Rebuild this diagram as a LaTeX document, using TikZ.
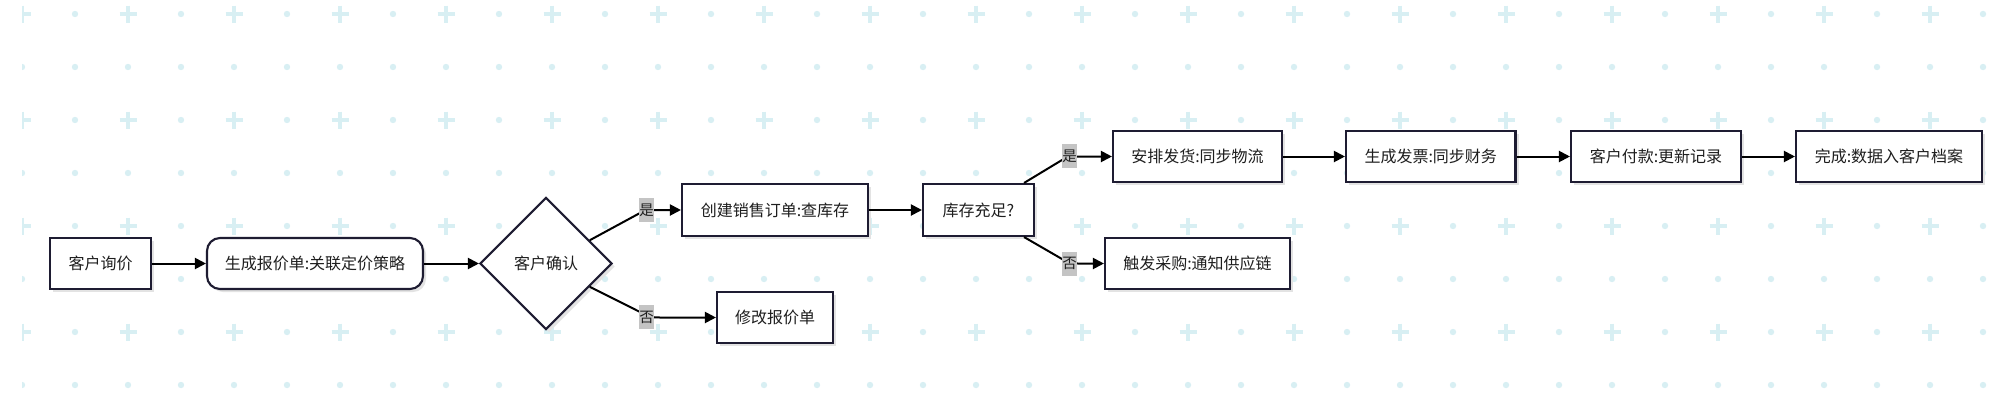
\documentclass[tikz,border=0pt]{standalone}
\usepackage{fontspec}
\setmainfont{Noto Sans CJK SC}
\usetikzlibrary{arrows.meta,shapes.geometric,shadows,calc}
\definecolor{gridc}{RGB}{216,239,243}
\definecolor{boxc}{RGB}{30,28,50}
\definecolor{lblbg}{RGB}{196,196,196}
\definecolor{txt}{RGB}{30,30,30}
\newcommand\boxfont{\fontsize{16}{18}\selectfont}
\newcommand\lblfont{\fontsize{14.5}{17}\selectfont}
\tikzset{
  x=1pt, y=-1pt,
  myshadow/.style={drop shadow={shadow xshift=3pt,shadow yshift=-3pt,fill=black!11,opacity=1}},
  box/.style={draw=boxc, line width=2.1pt, fill=white, minimum height=51pt, inner sep=0pt, font=\boxfont, text=txt, myshadow},
  dia/.style={diamond, aspect=1, draw=boxc, line width=2.1pt, fill=white, minimum width=132pt, minimum height=132pt, inner sep=0pt, font=\boxfont, text=txt, myshadow},
  edge/.style={draw=black, line width=2pt, -{Triangle[length=11pt,width=11pt]}},
  lbl/.style={fill=lblbg, inner sep=0pt, minimum width=15pt, minimum height=24pt, font=\lblfont, text=txt},
}
\begin{document}
\begin{tikzpicture}
\useasboundingbox (0,0) rectangle (2008,418);
\fill[white] (0,0) rectangle (2008,418);
% background grid
\begin{scope}
\clip (22,0) rectangle (2008,418);
\foreach \i in {0,...,37}{
  \foreach \j in {0,...,7}{
    \pgfmathtruncatemacro\kk{mod(\i,2)+mod(\j,2)}
    \pgfmathsetmacro\xx{22+53*\i}
    \pgfmathsetmacro\yy{14+53*\j}
    \ifnum\kk=0
      \draw[gridc, line width=4pt] (\xx-8.5,\yy) -- (\xx+8.5,\yy) (\xx,\yy-8.5) -- (\xx,\yy+8.5);
    \else
      \fill[gridc] (\xx,\yy) circle[radius=3.2pt];
    \fi
  }
}
\end{scope}
% nodes
\node[box, minimum width=101pt] (a) at (100.5,263.5) {客户询价};
\node[box, rounded corners=13pt, minimum width=216pt] (b) at (315,263.5) {生成报价单:关联定价策略};
\node[dia] (c) at (546,263.5) {客户确认};
\node[box, minimum width=186pt, minimum height=52pt] (d) at (775,210) {创建销售订单:查库存};
\node[box, minimum width=116pt] (e) at (775,317.5) {修改报价单};
\node[box, minimum width=111pt, minimum height=52pt] (f) at (978.5,210) {库存充足?};
\node[box, minimum width=169pt] (g) at (1197.5,156.5) {安排发货:同步物流};
\node[box, minimum width=185pt] (h) at (1197.5,263.5) {触发采购:通知供应链};
\node[box, minimum width=169.5pt] (i) at (1430.75,156.5) {生成发票:同步财务};
\node[box, minimum width=170pt] (j) at (1656,156.5) {客户付款:更新记录};
\node[box, minimum width=186pt] (k) at (1889,156.5) {完成:数据入客户档案};
% edges
\draw[edge] (a) -- (b);
\draw[edge] (b.east) -- (c.west);
\draw[edge] (d) -- (f);
\draw[edge] (g) -- (i);
\draw[edge] (i) -- (j);
\draw[edge] (j) -- (k);
\draw[edge] (c.28) -- (640,213) .. controls (646,210.3) and (650,210) .. (660,210) -- (d.west);
\draw[edge] (c.-28) -- (640,312) .. controls (646,316) and (650,317.5) .. (660,317.5) -- (e.west);
\draw[edge] ($(f.north east)+(-11,0)$) -- (1062,160) .. controls (1067,157) and (1070,156.5) .. (1078,156.5) -- (g.west);
\draw[edge] ($(f.south east)+(-11,0)$) -- (1062,259) .. controls (1067,262.5) and (1070,263.5) .. (1078,263.5) -- (h.west);
% labels
\node[lbl] (l1) at (646.5,210) {是};
\node[lbl] (l2) at (646.5,317) {否};
\node[lbl] (l3) at (1069.5,156) {是};
\node[lbl] (l4) at (1069.5,263.5) {否};
\end{tikzpicture}
\end{document}
